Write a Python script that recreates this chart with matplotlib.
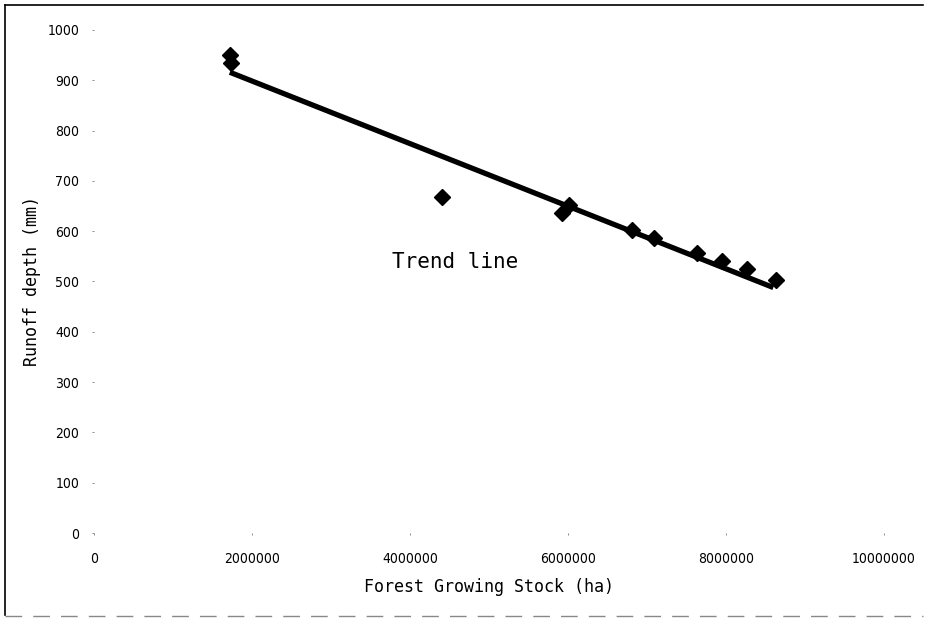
import matplotlib.pyplot as plt
from matplotlib.lines import Line2D

# observed points
stock = [1720000, 1740000, 4400000, 5920000, 6010000, 6810000,
         7090000, 7630000, 7950000, 8270000, 8630000]
runoff = [950, 934, 667, 637, 653, 603, 587, 557, 540, 524, 502]

# trend line end points
trend_x = [1720000, 8600000]
trend_y = [916, 488]

x_ticks = [0, 2000000, 4000000, 6000000, 8000000, 10000000]
y_ticks = [0, 100, 200, 300, 400, 500, 600, 700, 800, 900, 1000]

label_font = ['DejaVu Sans Mono']

fig = plt.figure(figsize=(9.25, 6.21), dpi=100)
ax = fig.add_axes([0.1016, 0.1417, 0.854, 0.81])

ax.plot(trend_x, trend_y, color='black', linewidth=3.8, solid_capstyle='butt', zorder=2)
ax.plot(stock, runoff, linestyle='none', marker='D', markersize=8.5,
        color='black', zorder=3)

ax.set_xlim(0, 10000000)
ax.set_ylim(0, 1000)
ax.set_xticks(x_ticks)
ax.set_yticks(y_ticks)
ax.set_xticklabels([str(v) for v in x_ticks], family='DejaVu Sans',
                   fontstretch='condensed', fontsize=10)
ax.set_yticklabels([str(v) for v in y_ticks], family='DejaVu Sans',
                   fontstretch='condensed', fontsize=10)
ax.tick_params(axis='both', length=1.5, width=0.6, color='#777777')
ax.tick_params(axis='y', pad=9)
ax.tick_params(axis='x', pad=12)

for s in ax.spines.values():
    s.set_visible(False)

ax.set_xlabel('Forest Growing Stock (ha)', family=label_font, fontsize=12, labelpad=9)
ax.set_ylabel('Runoff depth (mm)', family=label_font, fontsize=12, labelpad=5)

ax.text(4570000, 539, 'Trend line', family=label_font, fontsize=15,
        ha='center', va='center')

# scanned page border
fig.add_artist(Line2D([0.005, 0.005], [0.01, 0.992], transform=fig.transFigure,
                      color='black', linewidth=1.2))
fig.add_artist(Line2D([0.005, 0.998], [0.992, 0.992], transform=fig.transFigure,
                      color='black', linewidth=1.2))
fig.add_artist(Line2D([0.005, 0.998], [0.008, 0.008], transform=fig.transFigure,
                      color='#888888', linewidth=1.0, linestyle=(0, (12, 8))))

fig.savefig('out.png', dpi=100)
